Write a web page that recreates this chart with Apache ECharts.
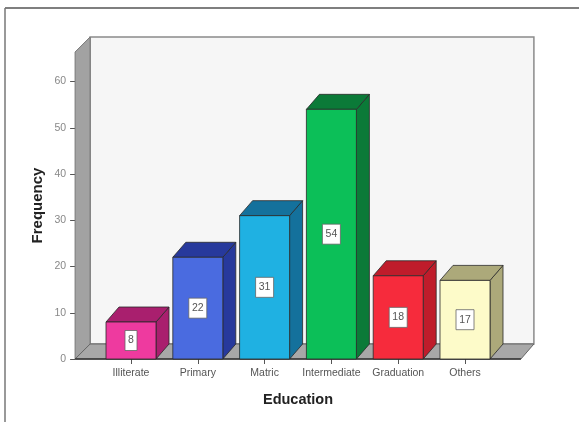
<!DOCTYPE html>
<html>
<head>
<meta charset="utf-8">
<style>html,body{margin:0;padding:0;background:#fff}#c{width:579px;height:422px;filter:blur(0.7px)}</style>
<script src="https://cdn.jsdelivr.net/npm/echarts@6/dist/echarts.min.js"></script>
</head>
<body>
<div id="c"></div>
<script>
const categories = ['Illiterate','Primary','Matric','Intermediate','Graduation','Others'];
const frequencies = [8,22,31,54,18,17];
const yTicks = [0,10,20,30,40,50,60];

const frontColors = ['#ee3a9f','#4a6be0','#1fb1e2','#0cbf58','#f62b3c','#fdfbc9'];
const sideColors  = ['#a91f6e','#27399c','#14719c','#0b7a38','#bf1c2b','#aca97a'];
const DX = 13, DY = 15, SIDE_PAD = 22.5, BAR_W = 50;

const chart = echarts.init(document.getElementById('c'), null, {renderer:'canvas'});

function poly(points, fill, stroke, w){
  return {type:'polygon', shape:{points}, style:{fill, stroke:stroke||'none', lineWidth:w||0}};
}

function renderWalls(params, api){
  const cs = params.coordSys;
  const l = cs.x - SIDE_PAD, r = cs.x + cs.width + SIDE_PAD, t = cs.y, b = cs.y + cs.height;
  const dx2 = 15;
  return {type:'group', children:[
    poly([[l+dx2,t-DY],[r+DX,t-DY],[r+DX,b-DY],[l+dx2,b-DY]],'#f6f6f6','#8a8a8a',1.5),
    poly([[l,t],[l+dx2,t-DY],[l+dx2,b-DY],[l,b]],'#a2a2a2','#777',1),
    poly([[l,b],[l+dx2,b-DY],[r+DX,b-DY],[r,b]],'#a8a8a8','#666',1),
    {type:'line', shape:{x1:l,y1:b,x2:r,y2:b}, style:{stroke:'#333',lineWidth:1.5}}
  ]};
}

function renderBar(params, api){
  const i = api.value(0), v = api.value(1);
  const [cx, yTop] = api.coord([i, v]);
  const [, y0] = api.coord([i, 0]);
  const x0 = cx - BAR_W/2, x1 = cx + BAR_W/2;
  const edge = '#2a2a2a';
  const midY = (yTop + y0)/2;
  const boxW = String(v).length > 1 ? 18 : 12;
  return {type:'group', children:[
    poly([[x1,yTop],[x1+DX,yTop-DY],[x1+DX,y0-DY],[x1,y0]], sideColors[i], edge, 0.8),
    poly([[x0,yTop],[x0+DX,yTop-DY],[x1+DX,yTop-DY],[x1,yTop]], sideColors[i], edge, 0.8),
    {type:'rect', shape:{x:x0,y:yTop,width:BAR_W,height:y0-yTop}, style:{fill:frontColors[i],stroke:edge,lineWidth:0.8}},
    {type:'rect', shape:{x:cx-boxW/2,y:midY-10,width:boxW,height:20}, style:{fill:'#fff',stroke:'#666',lineWidth:0.8}},
    {type:'text', x:cx, y:midY, style:{text:String(v),fill:'#555',font:'10.5px "Liberation Sans", Arial, sans-serif',align:'center',verticalAlign:'middle'}}
  ]};
}

chart.setOption({
  animation:false,
  backgroundColor:'#fff',
  textStyle:{fontFamily:'"Liberation Sans", Arial, sans-serif'},
  grid:{left:97.6, width:400.8, top:52, height:307},
  xAxis:{
    type:'category', data:categories,
    axisLine:{show:false},
    axisTick:{show:true,alignWithLabel:true,length:5,lineStyle:{color:'#555'}},
    axisLabel:{color:'#555',fontSize:10.5,margin:9,interval:0},
    name:'Education', nameLocation:'middle', nameGap:33, nameMoveOverlap:false,
    nameTextStyle:{fontSize:14.5,fontWeight:'bold',color:'#222'}
  },
  yAxis:{
    type:'value', min:0, max:66.4, offset:22.5,
    splitLine:{show:false},
    axisLine:{show:false},
    axisTick:{show:true,length:5,customValues:yTicks,lineStyle:{color:'#555'}},
    axisLabel:{color:'#888',fontSize:10.5,margin:9,customValues:yTicks},
    name:'Frequency', nameLocation:'middle', nameGap:30, nameMoveOverlap:false,
    nameTextStyle:{fontSize:15,fontWeight:'bold',color:'#222'}
  },
  graphic:[
    {type:'line',shape:{x1:5,y1:8,x2:579,y2:8},style:{stroke:'#555',lineWidth:1.5},z:0},
    {type:'line',shape:{x1:5,y1:8,x2:5,y2:422},style:{stroke:'#777',lineWidth:1.5},z:0}
  ],
  series:[
    {type:'custom',renderItem:renderWalls,data:[[0,0]],z:1,silent:true,clip:false},
    {type:'custom',renderItem:renderBar,encode:{x:0,y:1},
     data:frequencies.map((f,i)=>[i,f]),z:2,clip:false}
  ]
});
</script>
</body>
</html>
